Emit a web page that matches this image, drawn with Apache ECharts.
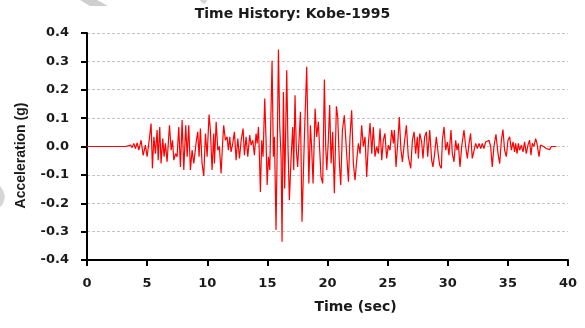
<!DOCTYPE html>
<html>
<head>
<meta charset="utf-8">
<script src="https://cdn.jsdelivr.net/npm/echarts@6/dist/echarts.min.js"></script>
<style>html,body{margin:0;padding:0;background:#fff}#c{width:585px;height:328px}</style>
</head>
<body>
<div id="c"></div>
<script>
var chartTitle = 'Time History: Kobe-1995';
var xTicks = [0, 5, 10, 15, 20, 25, 30, 35, 40];
var yTicks = [-0.4, -0.3, -0.2, -0.1, 0.0, 0.1, 0.2, 0.3, 0.4];

var timeSec = [
  0, 3.20, 3.34, 3.62, 3.75, 3.89, 4.03, 4.17, 4.31, 4.50, 4.67, 4.86, 5.00, 5.17, 5.33, 5.44, 5.56, 5.69, 5.83, 5.92,
  6.05, 6.16, 6.30, 6.41, 6.52, 6.66, 6.86, 7.00, 7.11, 7.22, 7.36, 7.49, 7.63, 7.77, 7.91, 8.05, 8.21, 8.33, 8.46, 8.60,
  8.74, 8.88, 9.10, 9.21, 9.32, 9.43, 9.57, 9.71, 9.85, 9.99, 10.15, 10.26, 10.40, 10.54, 10.60, 10.74, 10.88, 11.01, 11.15, 11.29,
  11.37, 11.51, 11.65, 11.76, 11.87, 11.98, 12.12, 12.26, 12.40, 12.54, 12.68, 12.82, 12.98, 13.09, 13.23, 13.37, 13.53, 13.65, 13.79, 13.92,
  14.06, 14.15, 14.26, 14.34, 14.42, 14.53, 14.64, 14.78, 14.89, 14.98, 15.09, 15.20, 15.39, 15.50, 15.59, 15.72, 15.84, 15.92, 16.03, 16.14,
  16.22, 16.33, 16.44, 16.61, 16.72, 16.83, 16.97, 17.11, 17.19, 17.30, 17.41, 17.52, 17.75, 17.88, 18.08, 18.27, 18.45, 18.58, 18.69, 18.80,
  18.97, 19.10, 19.24, 19.38, 19.46, 19.60, 19.74, 19.85, 19.94, 20.07, 20.18, 20.30, 20.43, 20.57, 20.74, 20.85, 20.99, 21.10, 21.24, 21.40,
  21.54, 21.74, 21.87, 22.01, 22.15, 22.29, 22.43, 22.57, 22.71, 22.84, 22.98, 23.12, 23.26, 23.40, 23.54, 23.68, 23.81, 23.95, 24.09, 24.23,
  24.37, 24.51, 24.64, 24.78, 24.92, 25.06, 25.20, 25.34, 25.48, 25.56, 25.70, 25.84, 25.97, 26.11, 26.23, 26.36, 26.56, 26.72, 26.92, 27.06,
  27.20, 27.33, 27.47, 27.56, 27.67, 27.83, 27.94, 28.08, 28.22, 28.33, 28.50, 28.66, 28.77, 28.91, 29.05, 29.22, 29.33, 29.47, 29.55, 29.69,
  29.83, 29.97, 30.10, 30.27, 30.38, 30.52, 30.66, 30.77, 30.88, 31.02, 31.16, 31.35, 31.49, 31.63, 31.77, 31.90, 32.04, 32.18, 32.32, 32.46,
  32.60, 32.74, 32.87, 33.01, 33.15, 33.29, 33.43, 33.57, 33.70, 33.84, 34.01, 34.18, 34.32, 34.46, 34.59, 34.73, 34.87, 35.01, 35.15, 35.29,
  35.43, 35.56, 35.65, 35.76, 35.87, 35.98, 36.12, 36.26, 36.39, 36.53, 36.67, 36.81, 36.92, 37.03, 37.17, 37.31, 37.42, 37.59, 37.72, 37.86,
  37.97, 38.08, 38.19, 38.33, 38.47, 38.61, 38.75, 39.03
];

var accelG = [
  0, 0, 0, 0.005, -0.004, 0.011, -0.007, 0.013, -0.013, 0.022, -0.031, 0.005, -0.036, 0.022, 0.081, -0.077, 0.034, -0.025, 0.058, -0.048,
  0.069, -0.060, 0.028, -0.036, 0.011, -0.054, 0.075, -0.013, 0.022, -0.048, -0.025, -0.036, 0.069, -0.072, 0.093, -0.083, 0.075, -0.036, 0.075, -0.083,
  -0.013, -0.060, 0.022, 0.052, -0.036, 0.063, -0.060, -0.104, 0.046, -0.036, 0.113, 0.058, -0.083, 0.046, -0.060, 0.087, -0.013, 0.000, -0.095, 0.022,
  0.075, 0.022, 0.034, -0.013, 0.034, -0.019, 0.011, 0.052, -0.048, 0.028, -0.042, 0.022, 0.063, -0.031, 0.034, -0.036, 0.040, 0.005, 0.022, -0.031,
  0.046, 0.011, 0.069, -0.036, -0.160, 0.022, -0.036, 0.169, 0.022, -0.136, -0.036, -0.083, 0.302, -0.036, 0.034, -0.294, 0.058, 0.342, 0.069, -0.036,
  -0.336, 0.192, -0.148, 0.269, -0.013, -0.189, -0.042, 0.069, -0.083, 0.181, -0.013, -0.072, 0.122, -0.265, 0.034, 0.281, -0.130, 0.075, -0.013, -0.130,
  0.134, 0.034, 0.087, -0.036, -0.107, -0.130, 0.236, 0.000, -0.083, 0.022, 0.146, -0.060, 0.052, -0.165, 0.142, 0.104, -0.060, -0.136, 0.058, 0.110,
  0.011, -0.124, 0.034, 0.128, -0.060, -0.119, -0.048, 0.011, -0.025, 0.075, 0.000, 0.034, -0.107, 0.011, 0.083, -0.025, 0.069, -0.036, 0.000, -0.025,
  0.063, -0.048, 0.022, 0.046, -0.042, 0.005, -0.013, 0.058, 0.011, 0.058, -0.072, 0.011, 0.104, -0.013, -0.054, 0.000, 0.075, -0.036, -0.077, 0.022,
  0.052, -0.025, 0.034, -0.042, 0.046, 0.016, -0.042, 0.034, 0.052, -0.036, 0.058, -0.048, -0.072, -0.025, 0.034, -0.031, -0.066, -0.077, 0.022, 0.069,
  -0.013, 0.016, -0.031, 0.058, -0.025, -0.054, 0.022, -0.013, 0.011, -0.072, 0.000, 0.058, 0.000, -0.042, 0.011, 0.046, -0.042, -0.042, 0.011, -0.007,
  0.011, -0.007, 0.011, -0.007, 0.016, 0.011, 0.022, 0.000, -0.072, 0.000, 0.043, -0.025, -0.060, 0.022, 0.060, -0.013, -0.036, 0.022, 0.034, -0.013,
  0.016, -0.019, 0.011, -0.025, 0.011, -0.013, 0.005, -0.019, 0.016, -0.025, 0.005, 0.022, -0.031, 0.011, 0.000, 0.028, 0.011, -0.036, 0.005, 0.011,
  0.000, 0.005, -0.007, 0.000, -0.011, 0.000, 0.001, 0.000
];

var seriesData = timeSec.map(function (t, i) { return [t, accelG[i]]; });

var chart = echarts.init(document.getElementById('c'), null, { renderer: 'canvas' });
var boldWide = 'DejaVu Sans';
chart.setOption({
  animation: false,
  backgroundColor: '#ffffff',
  title: {
    text: chartTitle,
    left: 'center',
    top: 2,
    textStyle: { fontFamily: boldWide, fontWeight: 'bold', fontSize: 14, color: '#1a1a1a' }
  },
  grid: { left: 87, right: 17, top: 33, bottom: 68, containLabel: false },
  xAxis: {
    type: 'value',
    min: xTicks[0],
    max: xTicks[xTicks.length - 1],
    interval: 5,
    name: 'Time (sec)',
    nameLocation: 'middle',
    nameGap: 40,
    nameTextStyle: { fontFamily: boldWide, fontWeight: 'bold', fontSize: 14, color: '#1a1a1a', padding: [0, 0, 0, 56] },
    axisLine: { show: true, onZero: false, lineStyle: { color: '#000', width: 2 } },
    axisTick: { show: true, inside: false, length: 6, lineStyle: { color: '#000', width: 2 } },
    axisLabel: { margin: 17, fontFamily: boldWide, fontWeight: 'bold', fontSize: 13, color: '#1a1a1a' },
    splitLine: { show: false }
  },
  yAxis: {
    type: 'value',
    min: yTicks[0],
    max: yTicks[yTicks.length - 1],
    interval: 0.1,
    name: 'Acceleration (g)',
    nameLocation: 'middle',
    nameGap: 59,
    nameTextStyle: { fontFamily: 'Liberation Sans', fontWeight: 'bold', fontSize: 14, color: '#1a1a1a', padding: [0, 18, 0, 0] },
    axisLine: { show: true, onZero: false, lineStyle: { color: '#000', width: 2 } },
    axisTick: { show: true, inside: false, length: 6, lineStyle: { color: '#000', width: 2 } },
    axisLabel: {
      margin: 18, fontFamily: boldWide, fontWeight: 'bold', fontSize: 13, color: '#1a1a1a',
      formatter: function (v) { return (Math.abs(v) < 1e-9 ? 0 : v).toFixed(1); }
    },
    splitLine: { show: true, lineStyle: { color: '#c4c4c4', width: 1, type: [3, 2] } }
  },
  graphic: [
    { type: 'polygon', silent: true, shape: { points: [[80, 0], [97, 0], [108, 6], [90, 6]] }, style: { fill: '#cfcfcf' } },
    { type: 'polygon', silent: true, shape: { points: [[200, 0], [207, 0], [205, 4], [202, 3]] }, style: { fill: '#d6d6d6' } },
    { type: 'polygon', silent: true, shape: { points: [[0, 186], [3, 190], [5, 197], [3, 204], [0, 207]] }, style: { fill: '#d6d6d6' } }
  ],
  series: [{
    type: 'line',
    data: seriesData,
    showSymbol: false,
    symbol: 'none',
    smooth: false,
    lineStyle: { color: '#ff0000', width: 1.2 },
    z: 3
  }]
});
</script>
</body>
</html>
